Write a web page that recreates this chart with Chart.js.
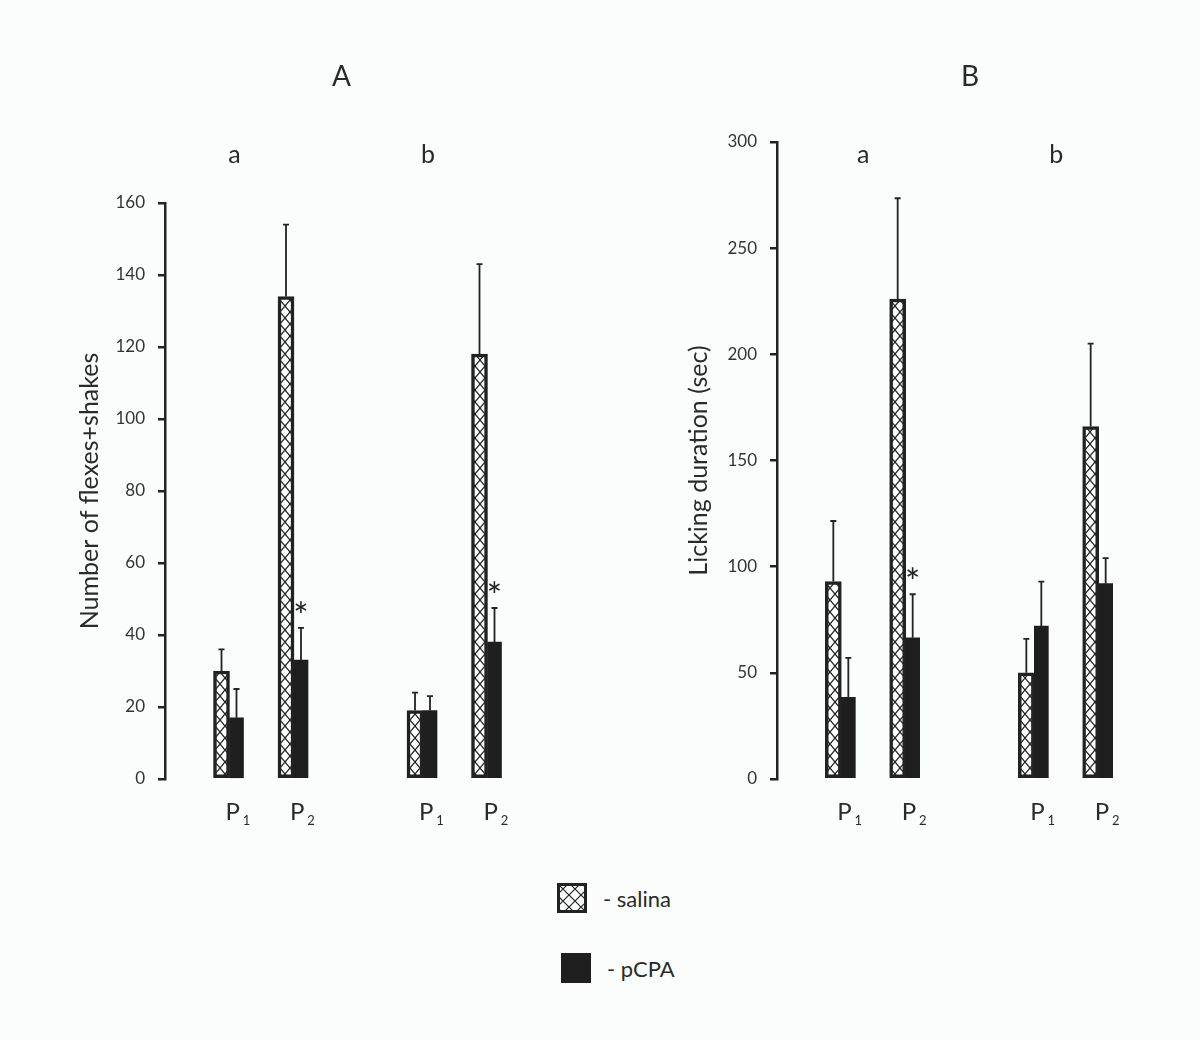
<!DOCTYPE html>
<html>
<head>
<meta charset="utf-8">
<title>Flexes+shakes and licking duration</title>
<script src="https://cdn.jsdelivr.net/npm/chart.js@4.4.0/dist/chart.umd.min.js"></script>
<style>
  body { margin: 0; background: #fbfdfd; width: 1200px; height: 1040px; position: relative; overflow: hidden;
         font-family: Lato, "Open Sans", sans-serif; color: #2a2a2a; }
  .panel { position: absolute; top: 0; width: 600px; height: 860px; }
  #panelA { left: 0; }
  #panelB { left: 600px; }
  .legend-row { position: absolute; display: flex; align-items: center; font-size: 22px; }
  .legend-row canvas { margin-right: 16px; }
</style>
</head>
<body>
<div class="panel" id="panelA"><canvas id="chartA" width="600" height="860"></canvas></div>
<div class="panel" id="panelB"><canvas id="chartB" width="600" height="860"></canvas></div>
<div class="legend-row" style="left:557px; top:883px;"><canvas id="swSaline" width="30" height="30"></canvas>- salina</div>
<div class="legend-row" style="left:561px; top:953px;"><canvas id="swPcpa" width="30" height="30"></canvas>- pCPA</div>

<script>
// categories within each group, and the group names (a, b)
const categories = ['P1', 'P2', 'P1', 'P2'];
const groupNames = ['a', 'b'];

// Panel A - number of flexes+shakes
const salineA = [30, 134, 19, 118];
const salineAErr = [6, 20, 5, 25];
const pcpaA = [17, 33, 19, 38];
const pcpaAErr = [8, 9, 4, 9.5];
const starsA = [false, true, false, true];
const yTicksA = { min: 0, max: 160, step: 20 };

// Panel B - licking duration (sec)
const salineB = [93, 226, 50, 166];
const salineBErr = [28.5, 47.5, 16, 39];
const pcpaB = [38.5, 66.5, 72, 92];
const pcpaBErr = [18.5, 20.5, 21, 12];
const starsB = [false, true, false, false];
const yTicksB = { min: 0, max: 300, step: 50 };

const INK = '#222222';

// spacer slots around / between the two groups
function spread(arr) {
    return [null, arr[0], arr[1], null, arr[2], arr[3], null];
}
const slotLabels = spread(categories).map(v => v === null ? '' : v);

function makeHatch(w, h) {
    const c = document.createElement('canvas');
    c.width = w; c.height = h;
    const g = c.getContext('2d');
    g.fillStyle = '#fdfefe';
    g.fillRect(0, 0, w, h);
    g.strokeStyle = INK;
    g.lineWidth = 1.2;
    g.beginPath();
    g.moveTo(0, 0); g.lineTo(w, h);
    g.moveTo(w, 0); g.lineTo(0, h);
    g.stroke();
    return g.createPattern(c, 'repeat');
}
const hatch = makeHatch(10, 12);

// error bars, asterisks, P labels, group letters and panel title
const decorPlugin = {
    id: 'decor',
    afterDatasetsDraw(chart, args, opts) {
        const ctx = chart.ctx;
        const ys = chart.scales.y;
        const xs = chart.scales.x;
        ctx.save();
        ctx.strokeStyle = INK;
        ctx.fillStyle = INK;
        ctx.lineWidth = 1.8;
        chart.data.datasets.forEach((ds, di) => {
            const meta = chart.getDatasetMeta(di);
            meta.data.forEach((bar, i) => {
                const v = ds.data[i];
                if (v === null || v === undefined) return;
                const top = ys.getPixelForValue(v + ds.errors[i]);
                ctx.beginPath();
                ctx.moveTo(bar.x, bar.y);
                ctx.lineTo(bar.x, top);
                ctx.moveTo(bar.x - 3, top);
                ctx.lineTo(bar.x + 3, top);
                ctx.stroke();
                if (ds.stars && ds.stars[i]) {
                    ctx.font = '36px Lato';
                    ctx.textAlign = 'center';
                    ctx.textBaseline = 'alphabetic';
                    ctx.fillText('*', bar.x, top + 1);
                }
            });
        });

        // P1 / P2 labels under the bars
        ctx.fillStyle = '#2a2a2a';
        ctx.textBaseline = 'alphabetic';
        slotLabels.forEach((lab, i) => {
            if (!lab) return;
            const px = xs.getPixelForValue(i);
            ctx.font = '24px Lato';
            ctx.textAlign = 'left';
            ctx.fillText(lab[0], px - 4, 820);
            ctx.font = '13px Lato';
            ctx.textAlign = 'center';
            ctx.fillText(lab.slice(1), px + 17, 825);
        });

        // group letters a / b
        ctx.font = '25px Lato';
        ctx.textAlign = 'center';
        ctx.textBaseline = 'middle';
        groupNames.forEach((g, gi) => {
            const px = xs.getPixelForValue(1 + gi * 3);
            ctx.fillText(g, px + opts.groupShift, 155);
        });

        // panel title
        ctx.font = '28px Lato';
        const ca = chart.chartArea;
        ctx.fillText(opts.title, (ca.left + ca.right) / 2 + opts.titleShift, 77);
        ctx.restore();
    }
};

function buildChart(id, cfg) {
    return new Chart(document.getElementById(id), {
        type: 'bar',
        data: {
            labels: slotLabels,
            datasets: [{
                label: 'salina',
                data: spread(cfg.saline),
                errors: spread(cfg.salineErr),
                backgroundColor: hatch,
                borderColor: INK,
                borderWidth: 3.5,
                borderSkipped: false,
                barThickness: 16
            }, {
                label: 'pCPA',
                data: spread(cfg.pcpa),
                errors: spread(cfg.pcpaErr),
                stars: spread(cfg.stars),
                backgroundColor: '#1e1e1e',
                borderWidth: 0,
                barThickness: 14
            }]
        },
        options: {
            responsive: false,
            animation: false,
            layout: { padding: cfg.padding },
            plugins: {
                legend: { display: false },
                tooltip: { enabled: false },
                decor: { title: cfg.title, titleShift: cfg.titleShift, groupShift: cfg.groupShift }
            },
            scales: {
                x: {
                    display: false,
                    offset: false,
                    grid: { display: false }
                },
                y: {
                    min: cfg.ticks.min,
                    max: cfg.ticks.max,
                    afterFit: s => { s.width = cfg.axisWidth; },
                    ticks: {
                        stepSize: cfg.ticks.step,
                        padding: 13,
                        color: '#333',
                        font: { family: 'Lato', size: 17 }
                    },
                    grid: {
                        drawOnChartArea: false,
                        drawTicks: true,
                        tickLength: 7,
                        color: INK,
                        lineWidth: 2.5
                    },
                    border: { display: true, color: INK, width: 2.5 },
                    title: {
                        display: true,
                        text: cfg.yTitle,
                        color: '#2a2a2a',
                        padding: { top: 0, bottom: 0 },
                        font: { family: 'Lato', size: 25 }
                    }
                }
            }
        },
        plugins: [decorPlugin]
    });
}

buildChart('chartA', {
    saline: salineA, salineErr: salineAErr, pcpa: pcpaA, pcpaErr: pcpaAErr, stars: starsA,
    ticks: yTicksA, yTitle: 'Number of flexes+shakes', title: 'A',
    padding: { top: 203, bottom: 81, left: 75, right: 48 }, axisWidth: 90,
    titleShift: -17, groupShift: 5
});

buildChart('chartB', {
    saline: salineB, salineErr: salineBErr, pcpa: pcpaB, pcpaErr: pcpaBErr, stars: starsB,
    ticks: yTicksB, yTitle: 'Licking duration (sec)', title: 'B',
    padding: { top: 142, bottom: 81, left: 84, right: 37 }, axisWidth: 93,
    titleShift: 0, groupShift: 22
});

// legend swatches
(function drawSwatches() {
    const s = document.getElementById('swSaline').getContext('2d');
    s.fillStyle = makeHatch(12, 12);
    s.fillRect(0, 0, 30, 30);
    s.strokeStyle = INK;
    s.lineWidth = 3;
    s.strokeRect(1.5, 1.5, 27, 27);
    const p = document.getElementById('swPcpa').getContext('2d');
    p.fillStyle = '#1e1e1e';
    p.fillRect(0, 0, 30, 30);
})();
</script>
</body>
</html>
